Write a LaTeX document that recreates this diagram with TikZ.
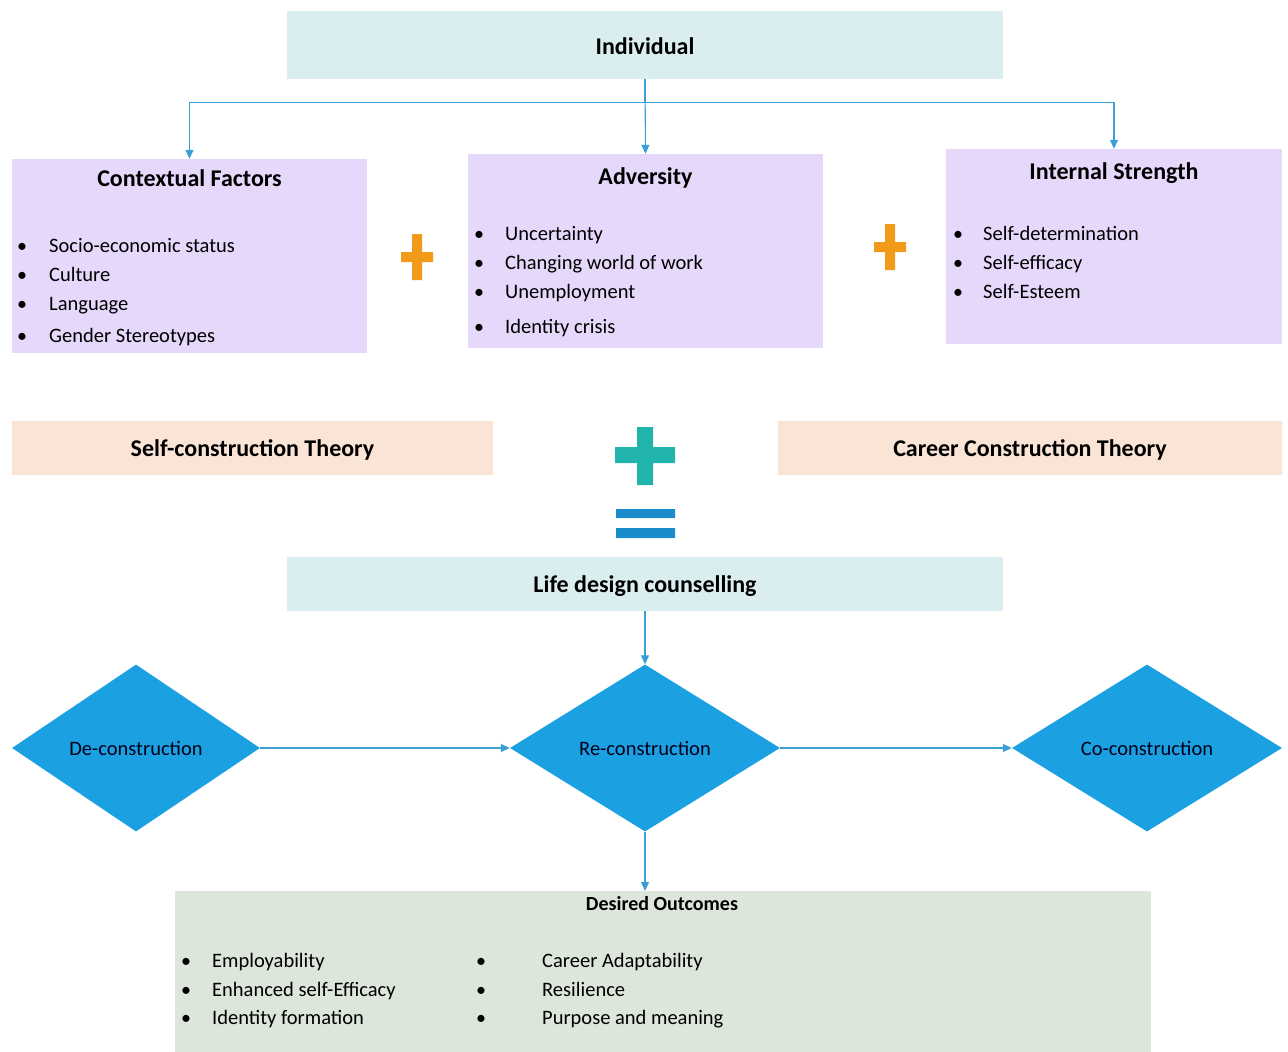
\documentclass[tikz,border=0pt]{standalone}
\usepackage{fontspec}
\setmainfont{Carlito}
\usetikzlibrary{shapes.geometric,arrows.meta}
\definecolor{cyanbox}{HTML}{DAEEF0}
\definecolor{lavbox}{HTML}{E6D8FA}
\definecolor{peachbox}{HTML}{FAE4D6}
\definecolor{greenbox}{HTML}{DCE6DA}
\definecolor{orangeplus}{HTML}{F29A1A}
\definecolor{tealplus}{HTML}{20B4AC}
\definecolor{eqblue}{HTML}{1A8CCB}
\definecolor{diablue}{HTML}{1BA1E2}
\definecolor{arrblue}{HTML}{3A9FD6}
\tikzset{
  box/.style={rectangle, inner sep=0pt, draw=none},
  title/.style={font=\fontsize{24}{28}\selectfont\bfseries, inner sep=0pt, text height=17pt, text depth=4pt},
  item/.style={font=\fontsize{20.5}{24}\selectfont, anchor=west, inner sep=0pt, text height=14pt, text depth=4pt},
  bul/.style={font=\fontsize{20}{24}\selectfont, inner sep=0pt, text height=14pt, text depth=4pt},
  dia/.style={diamond, fill=diablue, inner sep=0pt, minimum width=248pt, minimum height=167pt, font=\fontsize{20.5}{24}\selectfont, text=black!90!blue},
  arr/.style={draw=arrblue, line width=1.1pt, -{Triangle[length=9pt,width=8pt]}},
}
\begin{document}
\begin{tikzpicture}[x=1pt,y=-1pt]
\useasboundingbox (0,0) rectangle (1288,1052);
% top boxes
\node[box, fill=cyanbox, minimum width=716pt, minimum height=68pt] (ind) at (645,45) {};
\node[title] (indt) at (645,48) {Individual};
\node[box, fill=lavbox, minimum width=355pt, minimum height=194pt] (ctx) at (189.5,256) {};
\node[box, fill=lavbox, minimum width=355pt, minimum height=194pt] (adv) at (645.5,251) {};
\node[box, fill=lavbox, minimum width=336pt, minimum height=195pt] (int) at (1114,246.5) {};
\node[title] (ctxt) at (189.5,180) {Contextual Factors};
\node[title] (advt) at (645.5,178) {Adversity};
\node[title] (intt) at (1114,173) {Internal Strength};
% ctx items
\foreach \y/\t [count=\i] in {247/Socio-economic status,276/Culture,305/Language,337/Gender Stereotypes}{
  \node[bul] (cb\i) at (22,\y) {•};
  \node[item] (ci\i) at (49,\y) {\t};
}
\foreach \y/\t [count=\i] in {235/Uncertainty,264/Changing world of work,293/Unemployment,328/Identity crisis}{
  \node[bul] (ab\i) at (479,\y) {•};
  \node[item] (ai\i) at (505,\y) {\t};
}
\foreach \y/\t [count=\i] in {235/Self-determination,264/Self-efficacy,293/Self-Esteem}{
  \node[bul] (ib\i) at (958,\y) {•};
  \node[item] (ii\i) at (983,\y) {\t};
}
% connectors from Individual
\draw[arr] (ind.south) -- (adv.north);
\draw[arr] (ind.south) -- ++(0,23) -| (ctx.north);
\draw[arr] (ind.south) -- ++(0,23) -| (int.north);
% orange pluses
\fill[orangeplus] (412,234) rectangle (422,280) (401,252) rectangle (433,262);
\fill[orangeplus] (885,224) rectangle (895,270) (874,242) rectangle (906,252);
% theory boxes
\node[box, fill=peachbox, minimum width=481pt, minimum height=54pt] (sct) at (252.5,448) {};
\node[title] (sctt) at (252.5,450) {Self-construction Theory};
\node[box, fill=peachbox, minimum width=504pt, minimum height=54pt] (cct) at (1030,448) {};
\node[title] (cctt) at (1030,450) {Career Construction Theory};
% teal plus and equals
\fill[tealplus] (637,427) rectangle (653,485) (615,447) rectangle (675,463);
\fill[eqblue] (616,509) rectangle (675,518) (616,528) rectangle (675,538);
% life design
\node[box, fill=cyanbox, minimum width=716pt, minimum height=54pt] (ldc) at (645,584) {};
\node[title] (ldct) at (645,586) {Life design counselling};
% diamonds
\node[dia] (de) at (136,748) {De-construction};
\node[dia, minimum width=270pt] (re) at (645,748) {Re-construction};
\node[dia, minimum width=270pt] (co) at (1147,748) {Co-construction};
\draw[arr] (ldc.south) -- (re.north);
\draw[arr] (de.east) -- (re.west);
\draw[arr] (re.east) -- (co.west);
% desired outcomes
\node[box, fill=greenbox, minimum width=976pt, minimum height=161pt] (des) at (663,971.5) {};
\draw[arr] (re.south) -- (645,891);
\node[font=\fontsize{20}{24}\selectfont\bfseries, inner sep=0pt] (dest) at (662,904) {Desired Outcomes};
\foreach \y/\t [count=\i] in {962/Employability,991/Enhanced self-Efficacy,1019/Identity formation}{
  \node[bul] (db\i) at (186,\y) {•};
  \node[item] (di\i) at (212,\y) {\t};
}
\foreach \y/\t [count=\i] in {962/Career Adaptability,991/Resilience,1019/Purpose and meaning}{
  \node[bul] (eb\i) at (481,\y) {•};
  \node[item] (ei\i) at (542,\y) {\t};
}
\end{tikzpicture}
\end{document}
